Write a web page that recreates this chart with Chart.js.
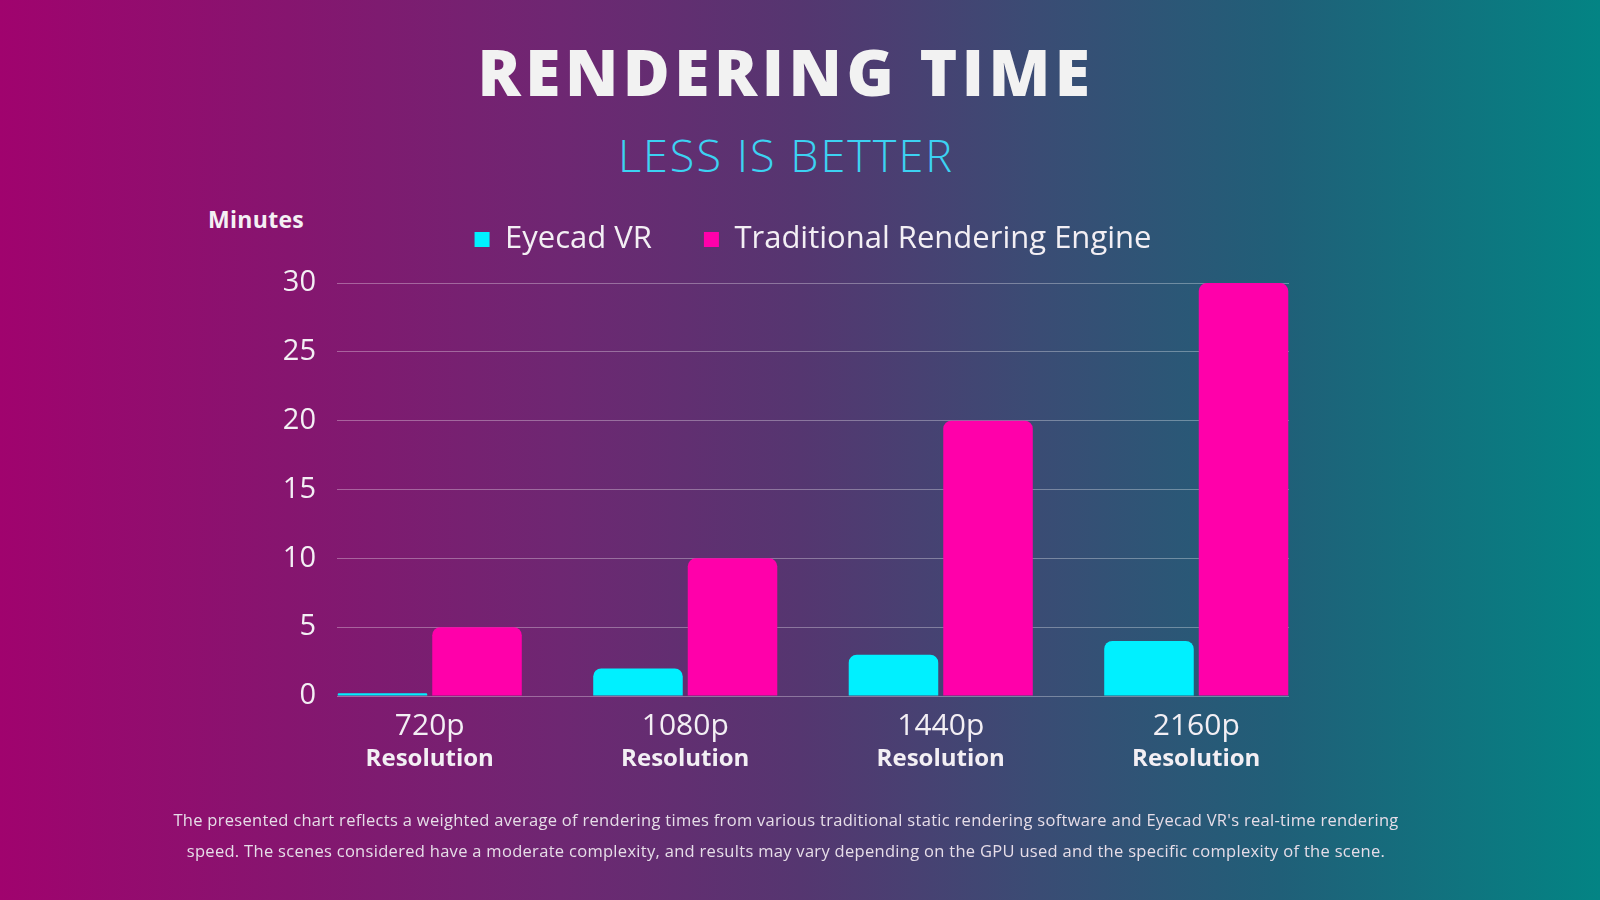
<!DOCTYPE html>
<html>
<head>
<meta charset="utf-8">
<script src="https://cdn.jsdelivr.net/npm/chart.js@4.4.1/dist/chart.umd.min.js"></script>
<style>
  html, body { margin:0; padding:0; }
  body {
    width:1600px; height:900px; overflow:hidden; position:relative;
    background: linear-gradient(90deg, #a0036e 0%, #86156f 18%, #6e2772 35%, #553670 50%, #3a4c74 65%, #205f78 80%, #038484 100%);
    font-family: "Open Sans", sans-serif;
  }
  .txt { position:absolute; left:0; width:1572px; text-align:center; white-space:nowrap; }
  #title { top:30px; font-size:64px; line-height:84px; font-weight:800; color:#f2f2f2; letter-spacing:4.5px; }
  #subtitle { top:127px; font-size:45px; line-height:56px; font-weight:300; color:#3cd2f2; letter-spacing:2px; }
  #minutes { position:absolute; left:208px; top:204px; font-size:23px; line-height:30px; font-weight:700; color:#f4f0f4; letter-spacing:0.3px; }
  #note { top:804px; font-size:16.5px; line-height:31px; color:#e6dde8; font-weight:400; letter-spacing:0.3px; }
  canvas { position:absolute; left:0; top:0; }
</style>
</head>
<body>
<div class="txt" id="title">RENDERING TIME</div>
<div class="txt" id="subtitle">LESS IS BETTER</div>
<div id="minutes">Minutes</div>
<canvas id="c" width="1600" height="900"></canvas>
<div class="txt" id="note">The presented chart reflects a weighted average of rendering times from various traditional static rendering software and Eyecad VR's real-time rendering<br>speed. The scenes considered have a moderate complexity, and results may vary depending on the GPU used and the specific complexity of the scene.</div>
<script>
const categories = ['720p', '1080p', '1440p', '2160p'];
const categorySubLabel = 'Resolution';
const eyecadVR = [0.2, 2, 3, 4];
const traditional = [5, 10, 20, 30];
const seriesNames = ['Eyecad VR', 'Traditional Rendering Engine'];
const yTicks = [0, 5, 10, 15, 20, 25, 30];

const CYAN = '#00f0ff';
const PINK = '#ff00aa';
const WHITE = '#f3eff4';

const toPoints = arr => arr.map((v, i) => ({ x: i, y: v }));
const xMin = -0.363, xMax = categories.length - 1 + 0.363;

new Chart(document.getElementById('c'), {
  type: 'bar',
  data: {
    datasets: [
      { label: seriesNames[0], data: toPoints(eyecadVR), backgroundColor: CYAN, borderRadius: 8, borderSkipped: 'start' },
      { label: seriesNames[1], data: toPoints(traditional), backgroundColor: PINK, borderRadius: 8, borderSkipped: 'start' }
    ]
  },
  options: {
    responsive: false,
    animation: false,
    categoryPercentage: 0.74,
    barPercentage: 0.947,
    layout: { padding: { left: 200, right: 311, top: 172, bottom: 124 } },
    plugins: {
      tooltip: { enabled: false },
      legend: {
        position: 'top',
        fullSize: false,
        labels: {
          color: WHITE,
          font: { family: '"Open Sans", sans-serif', size: 31 },
          boxWidth: 15, boxHeight: 15, padding: 52
        }
      }
    },
    scales: {
      x: {
        type: 'linear', min: xMin, max: xMax, position: 'bottom', offset: false,
        afterFit: s => { s.height = 50; },
        grid: { display: false, drawTicks: false },
        border: { display: false },
        ticks: {
          stepSize: 1, includeBounds: false, autoSkip: false, maxRotation: 0,
          padding: 12, color: WHITE,
          font: { family: '"Open Sans", sans-serif', size: 30 },
          callback: v => categories[v] ?? ''
        }
      },
      x2: {
        type: 'linear', min: xMin, max: xMax, position: 'bottom', offset: false,
        afterFit: s => { s.height = 30; },
        grid: { display: false, drawTicks: false },
        border: { display: false },
        ticks: {
          stepSize: 1, includeBounds: false, autoSkip: false, maxRotation: 0,
          padding: -1, color: WHITE,
          font: { family: '"Open Sans", sans-serif', size: 24, weight: '700' },
          callback: v => (categories[v] !== undefined ? categorySubLabel : '')
        }
      },
      y: {
        min: 0, max: 31.31,
        afterFit: s => { s.width = 137; },
        grid: { color: 'rgba(255,255,255,0.32)', lineWidth: 1, drawTicks: false },
        border: { display: false },
        afterBuildTicks: s => { s.ticks = yTicks.map(v => ({ value: v })); },
        ticks: {
          padding: 21, color: WHITE,
          font: { family: '"Open Sans", sans-serif', size: 29 }
        }
      }
    }
  }
});
</script>
</body>
</html>
